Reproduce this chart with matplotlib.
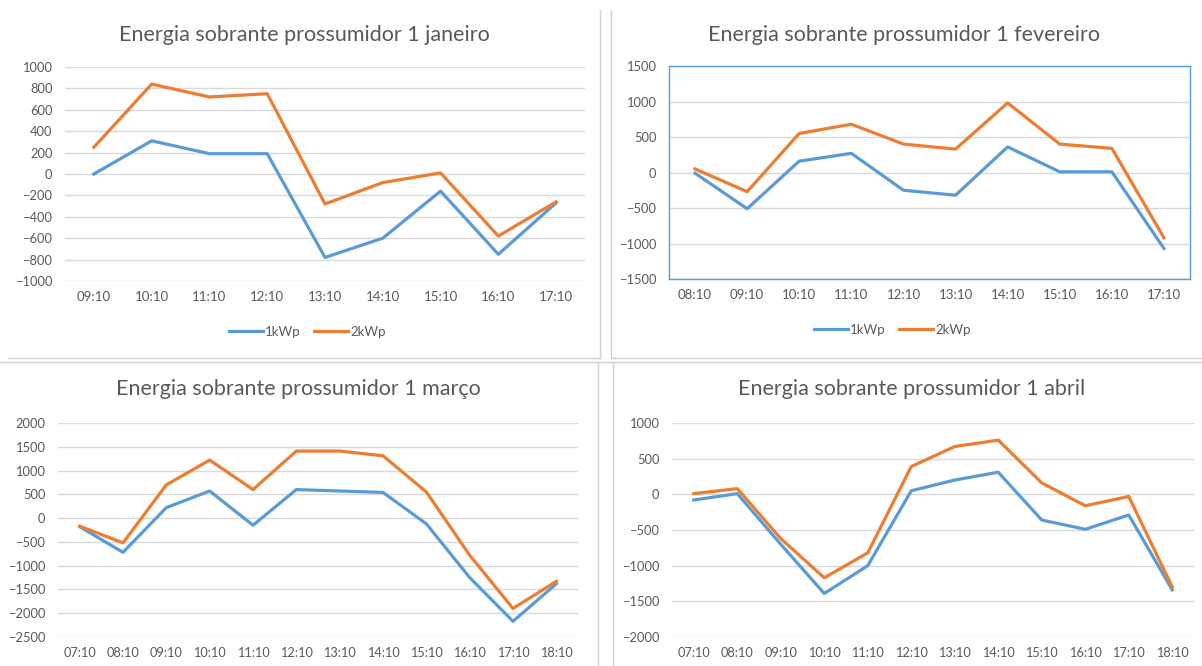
import matplotlib.pyplot as plt
from matplotlib.lines import Line2D

plt.rcParams['font.family'] = ['Lato', 'DejaVu Sans']

# data
jan_hours = ['09:10', '10:10', '11:10', '12:10', '13:10', '14:10', '15:10', '16:10', '17:10']
jan_1kwp = [0, 310, 190, 190, -780, -600, -160, -750, -270]
jan_2kwp = [250, 840, 720, 750, -280, -80, 10, -580, -260]

feb_hours = ['08:10', '09:10', '10:10', '11:10', '12:10', '13:10', '14:10', '15:10', '16:10', '17:10']
feb_1kwp = [-10, -510, 160, 270, -250, -320, 360, 10, 10, -1070]
feb_2kwp = [50, -270, 550, 680, 400, 330, 980, 400, 340, -920]

mar_hours = ['07:10', '08:10', '09:10', '10:10', '11:10', '12:10', '13:10', '14:10',
             '15:10', '16:10', '17:10', '18:10']
mar_1kwp = [-180, -720, 220, 570, -150, 600, 570, 540, -120, -1250, -2170, -1380]
mar_2kwp = [-170, -520, 700, 1220, 600, 1410, 1410, 1310, 550, -780, -1900, -1330]

apr_hours = mar_hours
apr_1kwp = [-80, 10, -700, -1390, -1000, 50, 200, 310, -360, -490, -290, -1340]
apr_2kwp = [10, 80, -620, -1170, -820, 390, 670, 760, 160, -160, -30, -1300]

BLUE = '#5B9BD5'
ORANGE = '#ED7D31'
GRAY = '#595959'
GRID = '#D9D9D9'

W, H = 1202, 666
fig = plt.figure(figsize=(W / 100, H / 100), dpi=100)
fig.patch.set_facecolor('white')


def px_axes(x0, x1, ytop, ybot):
    return fig.add_axes([x0 / W, (H - ybot) / H, (x1 - x0) / W, (ybot - ytop) / H])


def draw(ax, hours, s1, s2, ylim, step, title, title_xy, boxed=False, xsize=9.5):
    n = len(hours)
    x = list(range(n))
    ax.plot(x, s1, color=BLUE, lw=2.3, solid_joinstyle='round', zorder=3)
    ax.plot(x, s2, color=ORANGE, lw=2.3, solid_joinstyle='round', zorder=3)
    ax.set_xlim(-0.5, n - 0.5)
    ax.set_ylim(*ylim)
    ax.set_yticks(range(ylim[0], ylim[1] + 1, step))
    ax.set_xticks(x)
    ax.set_xticklabels(hours)
    ax.yaxis.grid(True, color=GRID, lw=1.0)
    ax.set_axisbelow(True)
    ax.tick_params(length=0, labelsize=9.3, labelcolor=GRAY)
    ax.tick_params(axis='y', pad=9)
    ax.tick_params(axis='x', pad=7, labelsize=xsize)
    for s in ax.spines.values():
        if boxed:
            s.set_color(BLUE)
            s.set_linewidth(1.0)
        else:
            s.set_visible(False)
    fig.text(title_xy[0] / W, 1 - title_xy[1] / H, title, ha='center', va='center',
             fontsize=15.5, color=GRAY)


def legend(cx, cy):
    handles = [Line2D([], [], color=BLUE, lw=2.3), Line2D([], [], color=ORANGE, lw=2.3)]
    fig.legend(handles, ['1kWp', '2kWp'], loc='center', bbox_to_anchor=(cx / W, 1 - cy / H),
               ncol=2, frameon=False, fontsize=9.5, labelcolor=GRAY, handlelength=2.6,
               handletextpad=0.15, columnspacing=1.0)


ax1 = px_axes(65, 585, 67, 281)
draw(ax1, jan_hours, jan_1kwp, jan_2kwp, (-1000, 1000), 200,
     'Energia sobrante prossumidor 1 janeiro', (304, 35))
legend(307, 332)

ax2 = px_axes(669, 1190, 66, 279)
draw(ax2, feb_hours, feb_1kwp, feb_2kwp, (-1500, 1500), 500,
     'Energia sobrante prossumidor 1 fevereiro', (904, 35), boxed=True)
legend(892, 330)

ax3 = px_axes(58, 578, 423, 637)
draw(ax3, mar_hours, mar_1kwp, mar_2kwp, (-2500, 2000), 500,
     'Energia sobrante prossumidor 1 março', (298, 389), xsize=9.2)

ax4 = px_axes(672, 1194, 423, 637)
draw(ax4, apr_hours, apr_1kwp, apr_2kwp, (-2000, 1000), 500,
     'Energia sobrante prossumidor 1 abril', (912, 389), xsize=9.2)

# borders of the pasted chart boxes
border = dict(color='#D0D0D0', lw=1.0)
fig.add_artist(Line2D([600 / W, 600 / W], [1 - 10 / H, 1 - 358 / H], **border))
fig.add_artist(Line2D([8 / W, 600 / W], [1 - 358 / H, 1 - 358 / H], **border))
fig.add_artist(Line2D([611 / W, 611 / W], [1 - 10 / H, 1 - 358 / H], **border))
fig.add_artist(Line2D([611 / W, 1202 / W], [1 - 358 / H, 1 - 358 / H], **border))
fig.add_artist(Line2D([0, 1], [1 - 362 / H, 1 - 362 / H], **border))
fig.add_artist(Line2D([598 / W, 598 / W], [1 - 362 / H, 0], **border))
fig.add_artist(Line2D([613 / W, 613 / W], [1 - 362 / H, 0], **border))

fig.savefig('out.png', dpi=100, facecolor='white')
